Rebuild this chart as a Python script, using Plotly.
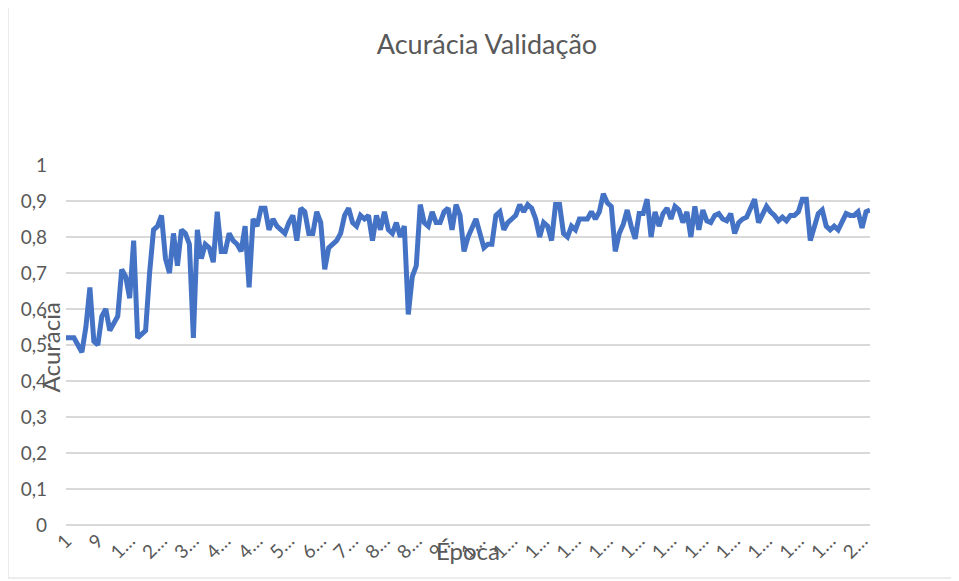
import plotly.graph_objects as go

# validation accuracy per epoch
epocas = list(range(1, 204))
acuracia = [
    0.52, 0.52, 0.52, 0.50, 0.48, 0.55, 0.66, 0.51, 0.50, 0.58,
    0.60, 0.54, 0.56, 0.58, 0.71, 0.69, 0.63, 0.79, 0.52, 0.53,
    0.54, 0.70, 0.82, 0.83, 0.86, 0.74, 0.70, 0.81, 0.72, 0.82,
    0.81, 0.78, 0.52, 0.82, 0.74, 0.78, 0.77, 0.73, 0.87, 0.76,
    0.76, 0.81, 0.79, 0.78, 0.76, 0.83, 0.66, 0.85, 0.83, 0.88,
    0.88, 0.82, 0.85, 0.83, 0.82, 0.81, 0.84, 0.86, 0.79, 0.88,
    0.87, 0.81, 0.81, 0.87, 0.84, 0.71, 0.77, 0.78, 0.79, 0.81,
    0.86, 0.88, 0.84, 0.83, 0.86, 0.85, 0.86, 0.79, 0.86, 0.82,
    0.87, 0.82, 0.81, 0.84, 0.80, 0.83, 0.585, 0.69, 0.72, 0.89,
    0.84, 0.83, 0.87, 0.84, 0.84, 0.87, 0.88, 0.82, 0.89, 0.86,
    0.76, 0.80, 0.83, 0.85, 0.81, 0.77, 0.78, 0.78, 0.86, 0.87,
    0.82, 0.84, 0.85, 0.86, 0.89, 0.87, 0.89, 0.88, 0.85, 0.80,
    0.84, 0.83, 0.79, 0.89, 0.89, 0.81, 0.80, 0.83, 0.82, 0.85,
    0.85, 0.85, 0.87, 0.85, 0.87, 0.92, 0.895, 0.885, 0.76, 0.81,
    0.835, 0.875, 0.83, 0.795, 0.865, 0.865, 0.905, 0.80, 0.87, 0.83,
    0.865, 0.88, 0.85, 0.885, 0.875, 0.84, 0.87, 0.80, 0.885, 0.82,
    0.875, 0.845, 0.84, 0.86, 0.865, 0.85, 0.845, 0.865, 0.81, 0.84,
    0.85, 0.855, 0.88, 0.905, 0.84, 0.865, 0.885, 0.87, 0.86, 0.845,
    0.855, 0.845, 0.86, 0.86, 0.87, 0.905, 0.905, 0.79, 0.83, 0.865,
    0.875, 0.83, 0.82, 0.83, 0.82, 0.84, 0.865, 0.86, 0.86, 0.87,
    0.825, 0.87, 0.875,
]

# excel shows every 8th category, truncated to first char + ellipsis
rotulos_x = epocas[::8]
texto_x = [str(n) if len(str(n)) == 1 else str(n)[0] + "\u2026" for n in rotulos_x]

cinza = "#595959"
grade = "#d9d9d9"
fonte = "Lato, 'Open Sans', sans-serif"

fig = go.Figure(go.Scatter(
    x=epocas, y=acuracia, mode="lines",
    line=dict(color="#4472C4", width=5),
    hoverinfo="x+y",
))

# page body adds an 8px offset, so work in page pixels minus 8
OFF = 8
W, H = 959 - OFF, 581 - OFF
L, R, T, B = 66 - OFF, 870 - OFF, 165 - OFF, 525 - OFF

def px(x):
    return (x - OFF - L) / (R - L)

def py(y):
    return (B - (y - OFF)) / (B - T)

fig.update_layout(
    width=W, height=H,
    margin=dict(l=L, r=W - R, t=T, b=H - B),
    paper_bgcolor="white", plot_bgcolor="white",
    separators=",.",
    font=dict(family=fonte, color=cinza, size=19),
    title=dict(text="Acurácia Validação", x=(487 - OFF) / W, xanchor="center",
               y=1 - (45 - OFF) / H, yanchor="middle",
               font=dict(size=27, color=cinza, family=fonte)),
    showlegend=False,
    xaxis=dict(range=[1, 203], tickmode="array", tickvals=rotulos_x,
               ticktext=texto_x, tickangle=-45, showgrid=False,
               zeroline=False, showline=False, ticks=""),
    yaxis=dict(range=[0, 1], dtick=0.1, showgrid=True, gridcolor=grade,
               gridwidth=1.5, zeroline=True, zerolinecolor=grade,
               zerolinewidth=1.5, showline=False, ticks="",
               ticklabelstandoff=18),
    annotations=[
        dict(text="Acurácia", xref="paper", yref="paper", x=px(33), y=py(348),
             textangle=-90, showarrow=False, font=dict(size=24, color=cinza)),
        dict(text="Época", xref="paper", yref="paper", x=px(468), y=py(567),
             showarrow=False, font=dict(size=24, color=cinza)),
    ],
    shapes=[
        dict(type="rect", xref="paper", yref="paper",
             x0=px(8), x1=px(955), y0=py(578), y1=py(1),
             line=dict(color=grade, width=1), layer="below"),
    ],
)

fig.write_html("out.html")
